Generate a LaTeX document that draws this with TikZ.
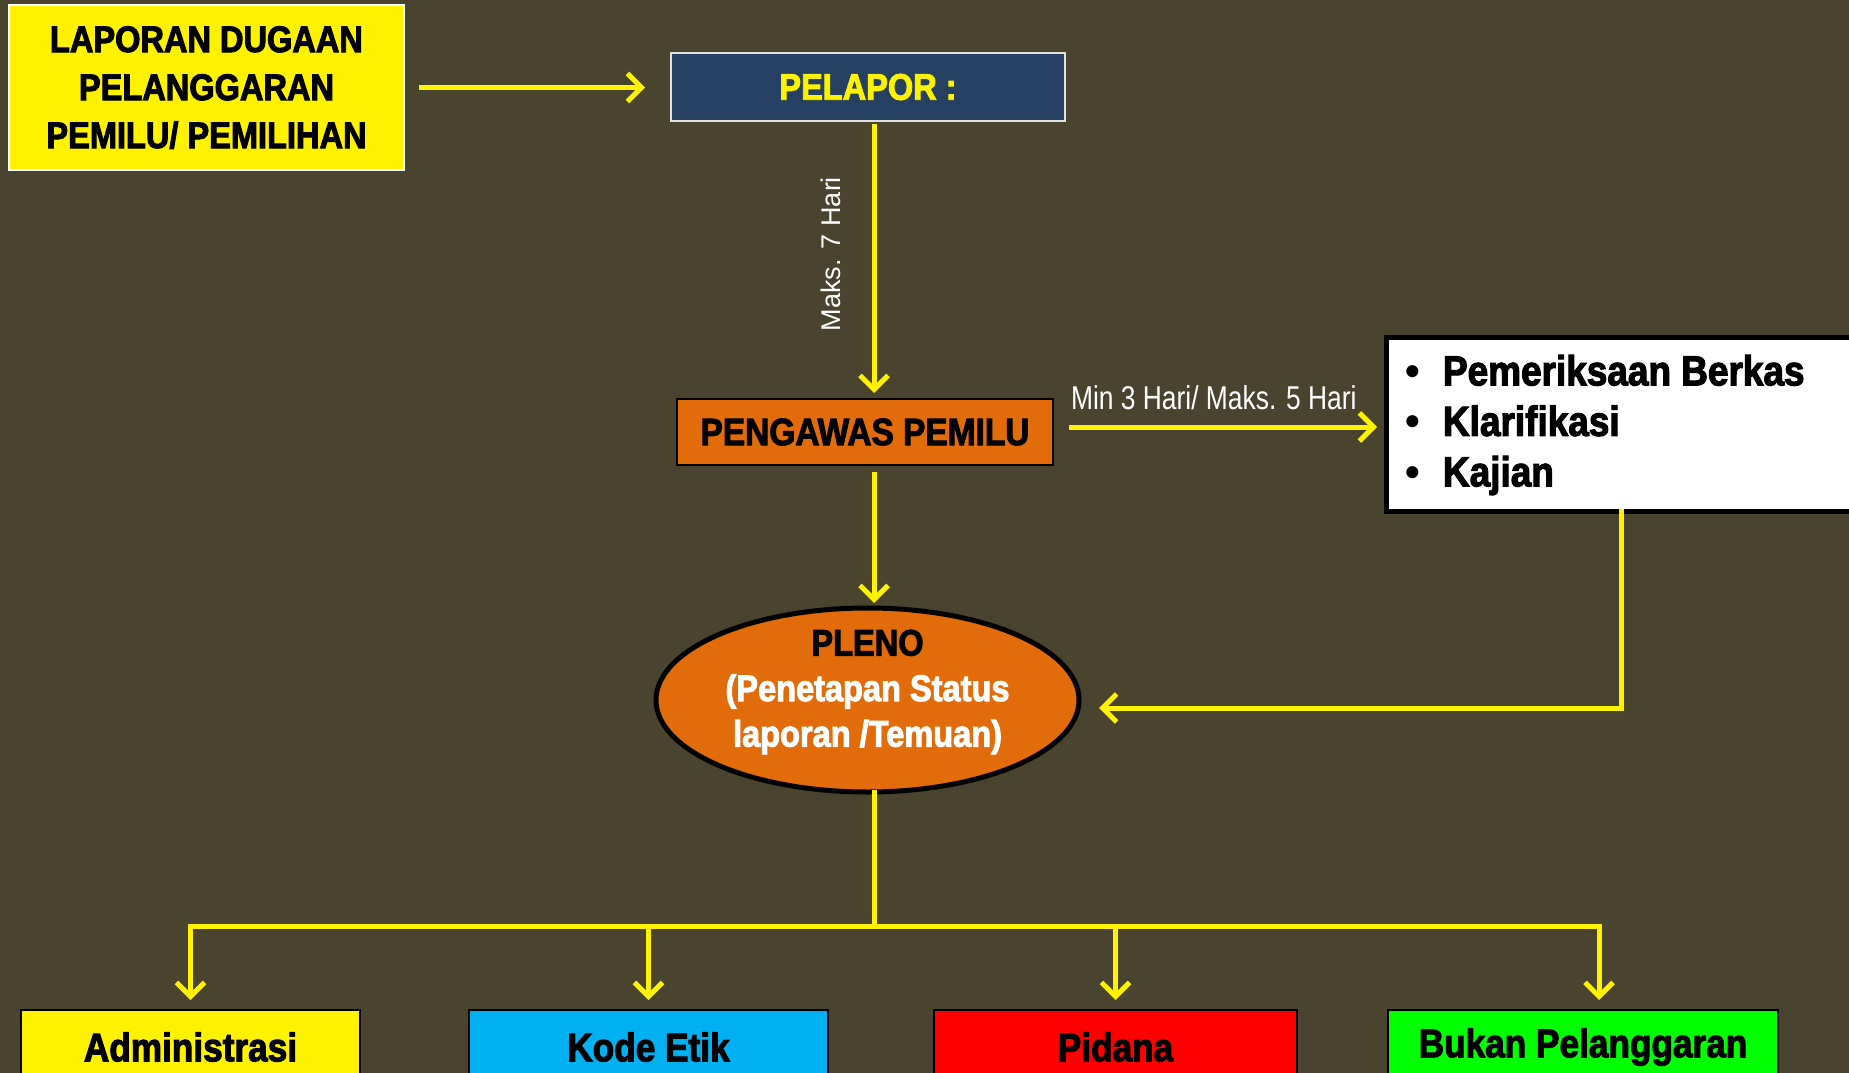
\documentclass[tikz,border=0pt]{standalone}
\usepackage{fontspec}
\usetikzlibrary{arrows.meta,shapes.geometric}
\newfontfamily\heavy[FakeStretch=0.88,FakeBold=2.6]{Liberation Sans}
\newfontfamily\plainf{Liberation Sans}
\newfontfamily\narrowf[FakeStretch=0.8]{Liberation Sans}
\newcommand\hf[2]{\heavy\bfseries\fontsize{#1}{#2}\selectfont}
\definecolor{bgc}{RGB}{74,68,46}
\definecolor{navy}{RGB}{38,64,97}
\definecolor{orng}{RGB}{227,108,10}
\definecolor{cyanb}{RGB}{0,176,240}
\definecolor{greenb}{RGB}{0,255,0}
\definecolor{lgray}{RGB}{225,225,225}
\begin{document}
\begin{tikzpicture}[x=1pt,y=-1pt,
  every node/.style={inner sep=0pt, outer sep=0pt},
  box/.style={draw, rectangle, line width=2pt},
  conn/.style={draw=yellow, line width=5pt, line cap=rect},
  arr/.style={conn, -{Straight Barb[length=14pt,width=28pt]}},
  lbl/.style={text=white}]
\fill[bgc] (0,0) rectangle (1849,1073);
\useasboundingbox (0,0) rectangle (1849,1073);
\coordinate (ax) at (874,0);

\node[box, draw=white, fill=yellow, minimum width=395pt, minimum height=165pt, align=center, font=\hf{37}{48}] (laporan) at (206.5,87.5) {LAPORAN DUGAAN\\PELANGGARAN\\PEMILU/ PEMILIHAN};

\node[box, draw=lgray, fill=navy, minimum width=394pt, minimum height=68pt, text=yellow, font=\hf{37}{40}] (pelapor) at (868,87) {PELAPOR :};

\node[box, draw=black, fill=orng, minimum width=376pt, minimum height=66pt, font=\hf{38}{40}] (pengawas) at (865,432) {PENGAWAS PEMILU};

\node[draw=black, line width=5pt, fill=white, minimum width=476pt, minimum height=174pt] (proses) at (1624,424) {};
\node[anchor=west, align=left, font=\hf{42}{50.5}] (prosestext) at (1405,425) {\makebox[38pt][l]{\plainf\fontsize{42}{30}\selectfont •}Pemeriksaan Berkas\\\makebox[38pt][l]{\plainf\fontsize{42}{30}\selectfont •}Klarifikasi\\\makebox[38pt][l]{\plainf\fontsize{42}{30}\selectfont •}Kajian};

\node[ellipse, draw=black, line width=5pt, fill=orng, minimum width=423pt, minimum height=184pt] (pleno) at (867.5,700) {};
\node[align=center, text=white, font=\hf{37}{45.5}] (plenotext) at (867.5,692) {\textcolor{black}{PLENO}\\(Penetapan Status\\laporan /Temuan)};

\node[box, draw=black, fill=yellow, minimum width=339pt, minimum height=74pt, font=\hf{40}{44}] (admin) at (190.5,1047) {Administrasi};
\node[box, draw=black, fill=cyanb, minimum width=359pt, minimum height=74pt, font=\hf{40}{44}] (etik) at (648.5,1047) {Kode Etik};
\node[box, draw=black, fill=red, minimum width=363pt, minimum height=74pt, font=\hf{40}{44}] (pidana) at (1115.5,1047) {Pidana};
\node[box, draw=black, fill=greenb, minimum width=390pt, minimum height=74pt, font=\hf{40}{44}] (bukan) at (1583,1047) {Bukan Pelanggaran};

% connectors
\draw[arr, shorten <=17pt, shorten >=26pt] (laporan.east) -- (pelapor.west |- laporan.east);
\draw[arr, shorten <=5pt, shorten >=6pt] (pelapor.south -| ax) -- (pengawas.north -| ax);
\node[lbl, rotate=90, font=\plainf\fontsize{27}{27}\selectfont] (lbl1) at (831,254) {Maks. 7 Hari};

\coordinate (a3) at ([yshift=5pt]pengawas.east);
\draw[arr, shorten <=18pt, shorten >=9pt] (a3) -- (a3 -| proses.west);
\node[lbl, anchor=base west, font=\narrowf\fontsize{33}{33}\selectfont] (lbl2) at (1071,409) {Min 3 Hari/ Maks. 5 Hari};

\draw[arr, shorten <=9pt, shorten >=5pt] (pengawas.south -| ax) -- (pleno.north -| ax);
\draw[arr, shorten >=20pt] ([xshift=-3pt]proses.south) |- ([yshift=-8pt]pleno.east);

\coordinate (j) at (874,926);
\coordinate (bk) at ([xshift=16pt]bukan.north);
\draw[conn] (pleno.south -| ax) -- (j);
\draw[conn] (admin.north |- j) -- (bk |- j);
\foreach \n in {admin,etik,pidana}
  \draw[arr, shorten >=10pt] (\n.north |- j) -- (\n.north);
\draw[arr, shorten >=10pt] (bk |- j) -- (bk);
\end{tikzpicture}
\end{document}
